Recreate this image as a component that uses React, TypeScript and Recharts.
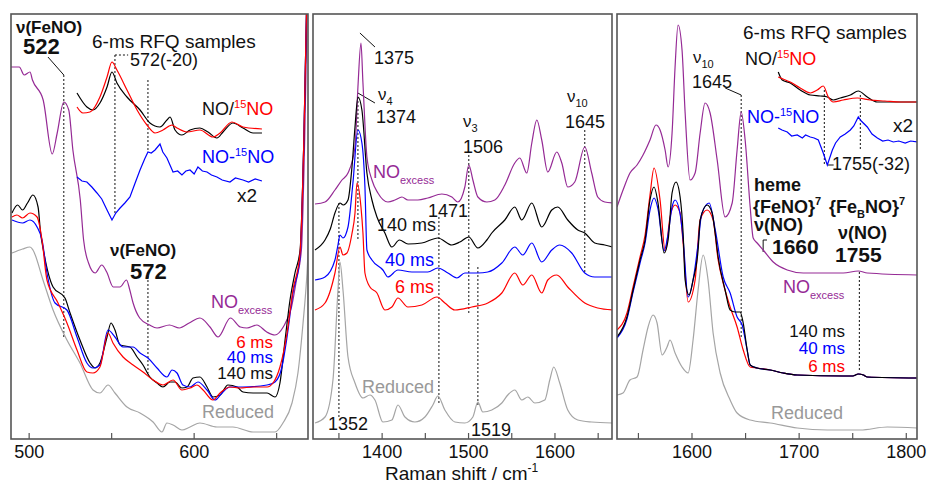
import React from "react";
import { LineChart, Line, XAxis, YAxis, ReferenceLine } from "recharts";

type Pt = [number, number];
type Seg = { a: Pt; b: Pt; dash?: boolean };

const FONT = '"Liberation Sans", Arial, Helvetica, sans-serif';
const PURPLE = "#952a95";
const GRAY = "#a5a5a5";

// x ranges (cm-1) and ticks
const p1Range: Pt = [489, 669];
const p2Range: Pt = [1320, 1666];
const p3Range: Pt = [1530, 1810];
const p1Ticks = [500, 550, 600, 650];
const p2Ticks = [1350, 1400, 1450, 1500, 1550, 1600, 1650];
const p3Ticks = [1550, 1600, 1650, 1700, 1750, 1800];

// ---- panel 1 (low frequency) ----
const p1Excess: Pt[] = [
  [489, 372], [494, 372], [497, 364], [500.5, 367], [502, 359], [508.5, 339], [514, 285], [517, 306],
  [521, 337], [524, 329], [526.5, 289], [531, 239], [533, 199], [536, 176], [540, 166], [544, 174],
  [547, 167], [551, 152], [555, 152], [559, 159], [561, 149], [563, 136], [567, 121], [573, 114],
  [577.5, 111], [585, 114], [591, 111], [597, 116], [603.5, 121], [609.6, 112], [614.5, 102], [622, 121],
  [628, 112], [632, 111], [638, 114], [644, 107], [649, 104], [654, 112], [659, 132], [662, 159],
  [665, 189], [667, 300], [669, 470],
];
const p1Ms140: Pt[] = [
  [489.6, 226], [493, 234], [496, 229], [499, 236], [502.3, 244], [505.4, 232], [507, 205], [508.6, 189],
  [514.5, 152], [521.7, 141], [524.8, 126], [530.8, 99], [536.9, 76], [539.9, 71], [542.9, 76], [547.2, 102],
  [549.6, 116], [552, 109], [555.1, 94], [561.1, 92], [565.4, 82], [569, 74], [573.2, 62], [577.5, 56],
  [581.1, 52], [585.4, 57], [588.4, 57], [592.6, 51], [595.7, 52], [599.3, 61], [603.5, 62], [607.8, 52],
  [611.4, 42], [615.7, 44], [620.5, 54], [626, 52], [629.6, 47], [635.7, 46], [644.2, 46], [649, 42],
  [652, 56], [655.1, 99], [658.1, 139], [661.1, 166], [664.2, 189], [666.5, 300], [668.5, 460],
];
const p1Ms6: Pt[] = [
  [489.6, 222], [492.6, 224], [496, 221], [500.5, 226], [504.8, 222], [506.5, 212], [507.8, 199], [510.8, 159],
  [517.5, 136], [522.9, 116], [529, 89], [535, 67], [538.7, 66], [542.9, 72], [547.8, 106], [550.8, 96],
  [556.9, 82], [563, 74], [569, 67], [575.1, 59], [581.1, 54], [587.2, 59], [592.6, 49], [597.5, 51],
  [601.7, 54], [605.4, 49], [611.4, 39], [615.7, 46], [621.7, 52], [627.8, 51], [635.7, 52], [644.2, 52],
  [647.8, 56], [652, 72], [656.3, 106], [659.9, 149], [664.2, 186], [666.5, 300], [668.5, 460],
];
const p1Ms40: Pt[] = [
  [489.6, 219], [496, 216], [500.5, 219], [504.8, 212], [507.8, 199], [510.8, 166], [515.7, 136], [522.9, 129],
  [529, 102], [535, 76], [538.7, 71], [542.9, 74], [547.8, 109], [552, 102], [556.9, 92], [563, 92],
  [567.2, 86], [572, 81], [577.5, 71], [583.5, 62], [586.6, 69], [589.6, 66], [593.2, 54], [597.5, 52],
  [602.3, 57], [607.8, 49], [612.6, 39], [616.9, 46], [621.7, 52], [629.6, 52], [644.2, 54], [649, 57],
  [653.2, 72], [656.3, 102], [659.9, 146], [664.2, 182], [666.5, 300], [668.5, 460],
];
const p1Reduced: Pt[] = [
  [489.6, 186], [496, 190], [500.5, 192], [502.3, 189], [508.4, 159], [514.5, 129], [522.9, 99], [530.8, 76],
  [538.7, 49], [542.9, 46], [547.8, 54], [552, 46], [559.3, 32], [567.2, 26], [575.1, 17], [580.5, 7],
  [583.5, 16], [587.2, 14], [592.6, 9], [597.5, 12], [603.5, 16], [613.8, 12], [623.5, 12], [635.7, 7],
  [649, 7], [653.8, 16], [659.3, 36], [662.9, 66], [666, 116], [668.4, 166], [670, 220],
];
const p1RfqNO: Pt[] = [
  [529, 346], [535, 332], [538.7, 329], [542.9, 336], [547.2, 352], [550.2, 367], [553.2, 356], [559.3, 342],
  [567.2, 329], [573.2, 316], [579.3, 312], [583.5, 319], [585.4, 322], [588.4, 309], [592.6, 304], [597.5, 309],
  [603.5, 311], [608.4, 307], [613.8, 301], [617.5, 307], [623.5, 316], [629.6, 311], [635.7, 306], [641.1, 306],
];
const p1Rfq15NO: Pt[] = [
  [529, 332], [532.6, 326], [536.9, 327], [542.9, 342], [547.2, 362], [550.2, 377], [553.2, 369], [559.3, 349],
  [565.4, 329], [571.4, 314], [576.3, 306], [581.1, 309], [586.6, 314], [589.6, 311], [595.7, 307], [603.5, 309],
  [611.4, 302], [615.7, 306], [622.9, 317], [629.6, 312], [641.1, 310],
];
const p1RfqDiff: Pt[] = [
  [529, 262], [532, 258], [535, 257], [538, 252], [541.1, 246], [544, 240], [547.2, 229], [550.2, 219],
  [552.5, 226], [555.1, 231], [558, 236], [561.1, 242], [564, 255], [567.2, 269], [570, 280], [572, 287],
  [574, 286], [576.3, 289], [579.3, 295], [581, 287], [583.5, 281], [587.2, 267], [590, 268], [592.6, 264],
  [595, 268], [597.5, 269], [600, 265], [602.3, 272], [605, 268], [607.8, 267], [610.5, 264], [613.8, 262],
  [617, 259], [621.7, 257], [625, 261], [629.6, 259], [633, 257], [637, 260], [641.1, 258],
];

// ---- panel 2 (high frequency, porphyrin modes) ----
const p2Excess: Pt[] = [
  [1322.3, 235], [1333.9, 237], [1345.4, 249], [1353.5, 259], [1360.5, 266], [1368.6, 292], [1372, 352], [1375.5, 396],
  [1377.8, 356], [1382.4, 282], [1388.2, 259], [1395.1, 246], [1406.7, 237], [1414.8, 239], [1422.9, 242], [1429.8, 239],
  [1441.4, 239], [1452.9, 241], [1469.1, 245], [1480.7, 242], [1487.6, 237], [1495.7, 252], [1500.3, 274], [1505, 259],
  [1510.8, 242], [1521.2, 237], [1530.4, 239], [1542, 254], [1553.5, 276], [1559.3, 281], [1567.4, 266], [1573.2, 296],
  [1579, 319], [1584.7, 299], [1591.7, 267], [1602.1, 287], [1607.9, 276], [1614.8, 252], [1622.9, 257], [1634.5, 292],
  [1642.5, 266], [1649.5, 242], [1657.6, 237], [1666.8, 236],
];
const p2Ms140: Pt[] = [
  [1322.3, 189], [1333.9, 199], [1340, 210], [1345.4, 226], [1351.2, 236], [1355, 234], [1360.5, 239], [1365.1, 272],
  [1368.6, 312], [1372, 342], [1376.6, 329], [1382.4, 266], [1388.2, 239], [1394, 222], [1403.2, 206], [1411.3, 192],
  [1420, 199], [1430, 195], [1446, 196], [1464.5, 201], [1480.7, 194], [1490, 197], [1500.3, 202], [1510.8, 191],
  [1521.2, 199], [1526.9, 206], [1542, 219], [1553.5, 232], [1561.6, 219], [1573.2, 236], [1584.7, 212], [1596.3, 229],
  [1603.2, 232], [1614.8, 219], [1626.4, 209], [1634.5, 206], [1646, 196], [1657.6, 194], [1666.8, 192],
];
const p2Ms40: Pt[] = [
  [1322.3, 159], [1333.9, 162], [1345.4, 179], [1348.9, 194], [1351.2, 204], [1354.7, 201], [1360.5, 212], [1366.2, 256],
  [1372, 309], [1376.6, 296], [1380.1, 252], [1382.4, 189], [1388.2, 179], [1400.9, 169], [1406.7, 162], [1418.3, 169],
  [1434.5, 167], [1452.9, 167], [1464.5, 171], [1476.1, 166], [1486.5, 161], [1495.7, 166], [1510.8, 166], [1522.3, 167],
  [1538.5, 176], [1553.5, 192], [1562.8, 184], [1573.2, 196], [1584.7, 177], [1596.3, 189], [1605.5, 194], [1619.4, 186],
  [1634.5, 166], [1646, 162], [1666.8, 162],
];
const p2Ms6: Pt[] = [
  [1322.3, 129], [1333.9, 136], [1345.4, 166], [1351.2, 192], [1354.7, 184], [1359.3, 186], [1365, 205], [1368.6, 226],
  [1370.9, 256], [1375.5, 232], [1377.8, 206], [1380.1, 166], [1385.9, 152], [1394, 146], [1403.2, 129], [1411.3, 132],
  [1418.3, 141], [1429.8, 132], [1446, 134], [1463.4, 142], [1472.6, 136], [1484.2, 129], [1503.8, 132], [1522.3, 136],
  [1538.5, 146], [1553.5, 166], [1562.8, 154], [1573.2, 164], [1584.7, 146], [1591.7, 159], [1602.1, 164], [1614.8, 152],
  [1634.5, 136], [1649.5, 131], [1666.8, 129],
];
const p2Reduced: Pt[] = [
  [1322.3, 16], [1333.9, 22], [1343.1, 59], [1348.9, 149], [1351.2, 177], [1354.7, 149], [1360.5, 82], [1368.6, 56],
  [1377.8, 41], [1385.9, 44], [1391.7, 39], [1400.9, 17], [1411.3, 19], [1418.3, 34], [1426.4, 22], [1437.9, 17],
  [1449.5, 22], [1458.7, 34], [1464.5, 43], [1472.6, 29], [1484.2, 17], [1495.7, 16], [1505, 22], [1510.8, 37],
  [1516.5, 27], [1526.9, 29], [1538.5, 36], [1545.4, 44], [1553.5, 49], [1561.6, 39], [1568.6, 42], [1576.7, 36],
  [1588.2, 39], [1594, 59], [1598.6, 72], [1605.5, 56], [1614.8, 29], [1626.4, 19], [1642.5, 17], [1666.8, 16],
];

// ---- panel 3 (nu(NO) region) ----
const p3Excess: Pt[] = [
  [1530, 232], [1536, 250], [1542.1, 266], [1548.7, 274], [1554.3, 284], [1560.8, 299], [1566.4, 314], [1570.2, 309],
  [1574.9, 289], [1577.7, 272], [1581.4, 306], [1584.2, 372], [1587, 414], [1590.7, 389], [1593.6, 326], [1598.2, 259],
  [1602.9, 266], [1607.6, 306], [1612.2, 336], [1616.9, 326], [1623.5, 279], [1630.9, 222], [1637.5, 236], [1642.1, 289],
  [1645.9, 327], [1649.6, 299], [1654.3, 232], [1657.1, 201], [1660.8, 196], [1666.4, 189], [1675.8, 177], [1688.9, 169],
  [1703.8, 166], [1741.2, 166], [1755.2, 168], [1763.6, 166], [1810.4, 164],
];
const p3Ms140: Pt[] = [
  [1530, 102], [1539.3, 122], [1545, 149], [1551.5, 179], [1556.2, 199], [1560.8, 239], [1564.6, 252], [1568.3, 236],
  [1574, 186], [1577.7, 199], [1581.4, 246], [1585.1, 257], [1588.9, 242], [1591.7, 206], [1593.6, 159], [1597.3, 144],
  [1601, 159], [1605.7, 189], [1607.6, 219], [1614.1, 234], [1618.8, 226], [1621.6, 206], [1624.4, 182], [1630.9, 149],
  [1635.6, 129], [1640.3, 127], [1644.9, 127], [1647.8, 116], [1651.5, 89], [1654.3, 74], [1660.8, 71], [1673, 69],
  [1685.1, 66], [1698.2, 64], [1741.2, 63], [1750, 63], [1755.2, 65], [1760, 64], [1763.6, 62], [1810.4, 61],
];
const p3Ms6: Pt[] = [
  [1530, 109], [1539.3, 126], [1545, 152], [1551.5, 182], [1556.2, 204], [1560.8, 244], [1564.6, 271], [1570.2, 239],
  [1575, 188], [1579.5, 222], [1584.2, 234], [1588.9, 226], [1591.7, 196], [1596.4, 137], [1602.9, 159], [1607.6, 219],
  [1614.1, 229], [1619.7, 219], [1624.4, 179], [1629.1, 156], [1635.6, 132], [1642.1, 112], [1647.8, 89], [1654.3, 72],
  [1660.8, 71], [1673, 69], [1685.1, 66], [1698.2, 64], [1741.2, 63], [1750, 63], [1755.2, 65], [1760, 64],
  [1763.6, 62], [1810.4, 61],
];
const p3Ms40: Pt[] = [
  [1530, 101], [1539.3, 120], [1545, 147], [1551.5, 176], [1556.2, 196], [1560.8, 229], [1564.6, 241], [1568.3, 230],
  [1574, 188], [1577.7, 205], [1581.4, 232], [1584.2, 239], [1588.9, 225], [1591.7, 200], [1596.4, 142], [1601, 159],
  [1605.7, 195], [1609, 225], [1616, 236], [1621.6, 210], [1629.1, 162], [1635.6, 146], [1642.1, 122], [1646.8, 114],
  [1651.5, 89], [1654.3, 74], [1660.8, 71], [1673, 69], [1685.1, 66], [1698.2, 64], [1741.2, 63], [1750, 63],
  [1755.2, 65], [1760, 64], [1763.6, 62], [1810.4, 61],
];
const p3Reduced: Pt[] = [
  [1530, 44], [1535.6, 46], [1542.1, 59], [1548.7, 62], [1554.3, 89], [1559, 112], [1563.6, 124], [1567.4, 116],
  [1572.1, 84], [1576.7, 92], [1579.5, 99], [1584.2, 86], [1590.7, 72], [1596.4, 66], [1601, 99], [1605.7, 149],
  [1610.4, 184], [1615, 159], [1619.7, 106], [1626.3, 66], [1635.6, 39], [1642.1, 26], [1654.3, 19], [1673, 16],
  [1698.2, 11], [1726.3, 9], [1757.1, 9], [1782.3, 12], [1810.4, 11],
];
const p3RfqNO: Pt[] = [
  [1680.5, 367], [1684.2, 359], [1691.7, 356], [1701, 349], [1710.4, 344], [1719.7, 343], [1726.3, 342], [1731.9, 339],
  [1738.4, 341], [1747.8, 344], [1755.2, 348], [1763.6, 342], [1773, 337], [1787.9, 337], [1810.4, 337],
];
const p3Rfq15NO: Pt[] = [
  [1680.5, 362], [1685, 360], [1691.7, 357], [1701, 351], [1710.4, 346], [1716.9, 349], [1722.5, 353], [1727.2, 342],
  [1731.9, 337], [1741.2, 339], [1754.3, 341], [1766.4, 339], [1780, 338], [1795, 337], [1810.4, 337],
];
const p3RfqDiff: Pt[] = [
  [1680.5, 311], [1684, 309], [1688.9, 307], [1693, 303], [1698.2, 304], [1703, 301], [1706, 304], [1710.4, 302],
  [1714, 301], [1717.9, 299], [1722.5, 286], [1726.3, 274], [1731, 289], [1734, 296], [1738.4, 302], [1743, 305],
  [1747.8, 309], [1751, 313], [1755.2, 322], [1758, 318], [1763.6, 312], [1768, 305], [1773, 301], [1778, 298],
  [1783, 299], [1787.9, 297], [1793, 298], [1799, 296], [1804, 298], [1810.4, 297],
];

const p1Segs: Seg[] = [
  { a: [511.4, 382], b: [521, 364] },
  { a: [521, 364], b: [521, 102], dash: true },
  { a: [552, 384], b: [552, 226], dash: true },
  { a: [552, 384], b: [560, 384], dash: true },
  { a: [572, 359], b: [572, 287], dash: true },
  { a: [572, 167], b: [572, 66], dash: true },
];
const p2Segs: Seg[] = [
  { a: [1374.3, 406], b: [1391.7, 392] },
  { a: [1372, 346], b: [1391.7, 336] },
  { a: [1372, 342], b: [1372, 199], dash: true },
  { a: [1350, 236], b: [1350, 22], dash: true },
  { a: [1465.7, 222], b: [1465.7, 34], dash: true },
  { a: [1500.3, 284], b: [1500.3, 124], dash: true },
  { a: [1510.8, 172], b: [1510.8, 32], dash: true },
  { a: [1634.5, 309], b: [1634.5, 167], dash: true },
];
const p3Segs: Seg[] = [
  { a: [1631, 351], b: [1645.9, 344] },
  { a: [1645.9, 344], b: [1645.9, 102], dash: true },
  { a: [1723.5, 349], b: [1723.5, 274], dash: true },
  { a: [1757.1, 344], b: [1757.1, 289], dash: true },
  { a: [1726.6, 274], b: [1732.2, 274] },
  { a: [1756.2, 167], b: [1756.2, 67], dash: true },
  { a: [1666.4, 199], b: [1666.4, 187] },
  { a: [1666.4, 199], b: [1670, 199] },
];

type Series = { pts: Pt[]; color: string; curve?: "monotone" | "linear" };

function InTick(props: any) {
  const { x, y, payload } = props;
  const major = payload.value % 100 === 0;
  return (
    <g>
      <line x1={x} y1={y} x2={x} y2={y - 6} stroke="#555" strokeWidth={1.2} />
      {major && (
        <text x={x} y={y + 19} textAnchor="middle" fontSize={18} fill="#111" fontFamily={FONT}>
          {payload.value}
        </text>
      )}
    </g>
  );
}

function Panel(props: {
  left: number;
  width: number;
  right?: number;
  range: Pt;
  ticks: number[];
  series: Series[];
  segs: Seg[];
}) {
  const { left, width, right = 0, range, ticks, series, segs } = props;
  return (
    <div style={{ position: "absolute", left, top: 0 }}>
      <LineChart width={width} height={484} margin={{ top: 14, right, bottom: 0, left: 0 }}>
        <XAxis
          type="number"
          dataKey="x"
          domain={range}
          allowDataOverflow
          ticks={ticks}
          interval={0}
          tick={<InTick />}
          tickSize={0}
          tickMargin={0}
          tickLine={false}
          axisLine={false}
          height={45}
        />
        <YAxis hide type="number" domain={[0, 425]} allowDataOverflow />
        {segs.map((s, i) => (
          <ReferenceLine
            key={"s" + i}
            segment={[{ x: s.a[0], y: s.a[1] }, { x: s.b[0], y: s.b[1] }]}
            stroke="#111"
            strokeWidth={1}
            strokeDasharray={s.dash ? "2 2" : undefined}
            ifOverflow="visible"
          />
        ))}
        {series.map((s, i) => (
          <Line
            key={"l" + i}
            data={s.pts.map(([x, y]) => ({ x, y }))}
            dataKey="y"
            type={s.curve ?? "monotone"}
            stroke={s.color}
            strokeWidth={1.2}
            dot={false}
            isAnimationActive={false}
          />
        ))}
      </LineChart>
    </div>
  );
}

export default function App() {
  const t = { fontFamily: FONT, fill: "#111" };
  return (
    <div style={{ position: "absolute", left: 0, top: 0, width: 930, height: 484, background: "#fff" }}>
      <Panel
        left={11}
        width={297}
        range={p1Range}
        ticks={p1Ticks}
        segs={p1Segs}
        series={[
          { pts: p1Reduced, color: GRAY },
          { pts: p1Excess, color: PURPLE },
          { pts: p1Ms140, color: "#000" },
          { pts: p1Ms40, color: "#0000ff" },
          { pts: p1Ms6, color: "#ff0000" },
          { pts: p1RfqNO, color: "#000" },
          { pts: p1Rfq15NO, color: "#ff0000" },
          { pts: p1RfqDiff, color: "#0000ff", curve: "linear" },
        ]}
      />
      <Panel
        left={313}
        width={299}
        range={p2Range}
        ticks={p2Ticks}
        segs={p2Segs}
        series={[
          { pts: p2Reduced, color: GRAY },
          { pts: p2Excess, color: PURPLE },
          { pts: p2Ms140, color: "#000" },
          { pts: p2Ms40, color: "#0000ff" },
          { pts: p2Ms6, color: "#ff0000" },
        ]}
      />
      <Panel
        left={617}
        width={313}
        right={13}
        range={p3Range}
        ticks={p3Ticks}
        segs={p3Segs}
        series={[
          { pts: p3Reduced, color: GRAY },
          { pts: p3Excess, color: PURPLE },
          { pts: p3Ms6, color: "#ff0000" },
          { pts: p3Ms40, color: "#0000ff" },
          { pts: p3Ms140, color: "#000" },
          { pts: p3RfqNO, color: "#000" },
          { pts: p3Rfq15NO, color: "#ff0000" },
          { pts: p3RfqDiff, color: "#0000ff", curve: "linear" },
        ]}
      />
      <svg
        width={930}
        height={484}
        style={{ position: "absolute", left: 0, top: 0, pointerEvents: "none" }}
      >
        <rect x={11} y={14} width={297} height={425} fill="none" stroke="#555" strokeWidth={1.6} />
        <rect x={313} y={14} width={299} height={425} fill="none" stroke="#555" strokeWidth={1.6} />
        <rect x={617} y={14} width={300} height={425} fill="none" stroke="#555" strokeWidth={1.6} />

        {/* panel 1 */}
        <text x={16} y={33} fontSize={17} fontWeight="bold" {...t}>ν(FeNO)</text>
        <text x={23} y={54} fontSize={22} fontWeight="bold" {...t}>522</text>
        <text x={92} y={48} fontSize={19} {...t}>6-ms RFQ samples</text>
        <text x={130} y={66} fontSize={18} {...t}>572(-20)</text>
        <text x={202} y={115} fontSize={18} {...t}>
          NO/<tspan fill="#ff0000" fontSize={11} dy={-7}>15</tspan>
          <tspan fill="#ff0000" dy={7}>NO</tspan>
        </text>
        <text x={202} y={163} fontSize={18} {...t} fill="#0000ff">
          NO-<tspan fontSize={11} dy={-7}>15</tspan>
          <tspan dy={7}>NO</tspan>
        </text>
        <text x={237} y={202} fontSize={19} {...t}>x2</text>
        <text x={110} y={256} fontSize={17} fontWeight="bold" {...t}>ν(FeNO)</text>
        <text x={130} y={279} fontSize={22} fontWeight="bold" {...t}>572</text>
        <text x={211} y={308} fontSize={18} {...t} fill={PURPLE}>
          NO<tspan fontSize={11} dy={6}>excess</tspan>
        </text>
        <text x={273} y={348} fontSize={17} textAnchor="end" {...t} fill="#ff0000">6 ms</text>
        <text x={273} y={363} fontSize={17} textAnchor="end" {...t} fill="#0000ff">40 ms</text>
        <text x={273} y={379} fontSize={17} textAnchor="end" {...t}>140 ms</text>
        <text x={274} y={418} fontSize={18} textAnchor="end" {...t} fill="#999">Reduced</text>

        {/* panel 2 */}
        <text x={374} y={64} fontSize={18} {...t}>1375</text>
        <text x={378} y={100} fontSize={17} {...t}>
          ν<tspan fontSize={11} dy={5}>4</tspan>
        </text>
        <text x={376} y={123} fontSize={18} {...t}>1374</text>
        <text x={463} y={127} fontSize={17} {...t}>
          ν<tspan fontSize={11} dy={5}>3</tspan>
        </text>
        <text x={463} y={153} fontSize={18} {...t}>1506</text>
        <text x={567} y={102} fontSize={17} {...t}>
          ν<tspan fontSize={11} dy={5}>10</tspan>
        </text>
        <text x={565} y={128} fontSize={18} {...t}>1645</text>
        <text x={373} y={178} fontSize={18} {...t} fill={PURPLE}>
          NO<tspan fontSize={11} dy={6}>excess</tspan>
        </text>
        <text x={428} y={217} fontSize={18} {...t}>1471</text>
        <text x={377} y={231} fontSize={18} {...t}>140 ms</text>
        <text x={385} y={266} fontSize={18} {...t} fill="#0000ff">40 ms</text>
        <text x={395} y={293} fontSize={18} {...t} fill="#ff0000">6 ms</text>
        <text x={362} y={393} fontSize={18} {...t} fill="#999">Reduced</text>
        <text x={328} y={430} fontSize={18} {...t}>1352</text>
        <text x={471} y={436} fontSize={18} {...t}>1519</text>
        <text x={385} y={480} fontSize={19} {...t}>
          Raman shift / cm<tspan fontSize={12} dy={-8}>-1</tspan>
        </text>

        {/* panel 3 */}
        <text x={743} y={39} fontSize={19} {...t}>6-ms RFQ samples</text>
        <text x={745} y={65} fontSize={18} {...t}>
          NO/<tspan fill="#ff0000" fontSize={11} dy={-7}>15</tspan>
          <tspan fill="#ff0000" dy={7}>NO</tspan>
        </text>
        <text x={693} y={63} fontSize={17} {...t}>
          ν<tspan fontSize={11} dy={5}>10</tspan>
        </text>
        <text x={692} y={88} fontSize={18} {...t}>1645</text>
        <text x={747} y={123} fontSize={18} {...t} fill="#0000ff">
          NO-<tspan fontSize={11} dy={-7}>15</tspan>
          <tspan dy={7}>NO</tspan>
        </text>
        <text x={893} y={132} fontSize={19} {...t}>x2</text>
        <text x={832} y={170} fontSize={18} {...t}>1755(-32)</text>
        <text x={754} y={191} fontSize={18} fontWeight="bold" {...t}>heme</text>
        <text x={753} y={213} fontSize={18} fontWeight="bold" {...t}>
          {"{FeNO}"}<tspan fontSize={11} dy={-8}>7</tspan>
        </text>
        <text x={829} y={213} fontSize={18} fontWeight="bold" {...t}>
          {"{Fe"}<tspan fontSize={11} dy={5}>B</tspan>
          <tspan dy={-5}>{"NO}"}</tspan>
          <tspan fontSize={11} dy={-8}>7</tspan>
        </text>
        <text x={754} y={231} fontSize={18} fontWeight="bold" {...t}>ν(NO)</text>
        <text x={838} y={239} fontSize={18} fontWeight="bold" {...t}>ν(NO)</text>
        <text x={772} y={254} fontSize={21} fontWeight="bold" {...t}>1660</text>
        <text x={835} y={262} fontSize={21} fontWeight="bold" {...t}>1755</text>
        <text x={783} y={293} fontSize={18} {...t} fill={PURPLE}>
          NO<tspan fontSize={11} dy={6}>excess</tspan>
        </text>
        <text x={845} y={337} fontSize={17} textAnchor="end" {...t}>140 ms</text>
        <text x={845} y={354} fontSize={17} textAnchor="end" {...t} fill="#0000ff">40 ms</text>
        <text x={845} y={372} fontSize={17} textAnchor="end" {...t} fill="#ff0000">6 ms</text>
        <text x={843} y={419} fontSize={18} textAnchor="end" {...t} fill="#999">Reduced</text>
      </svg>
    </div>
  );
}
